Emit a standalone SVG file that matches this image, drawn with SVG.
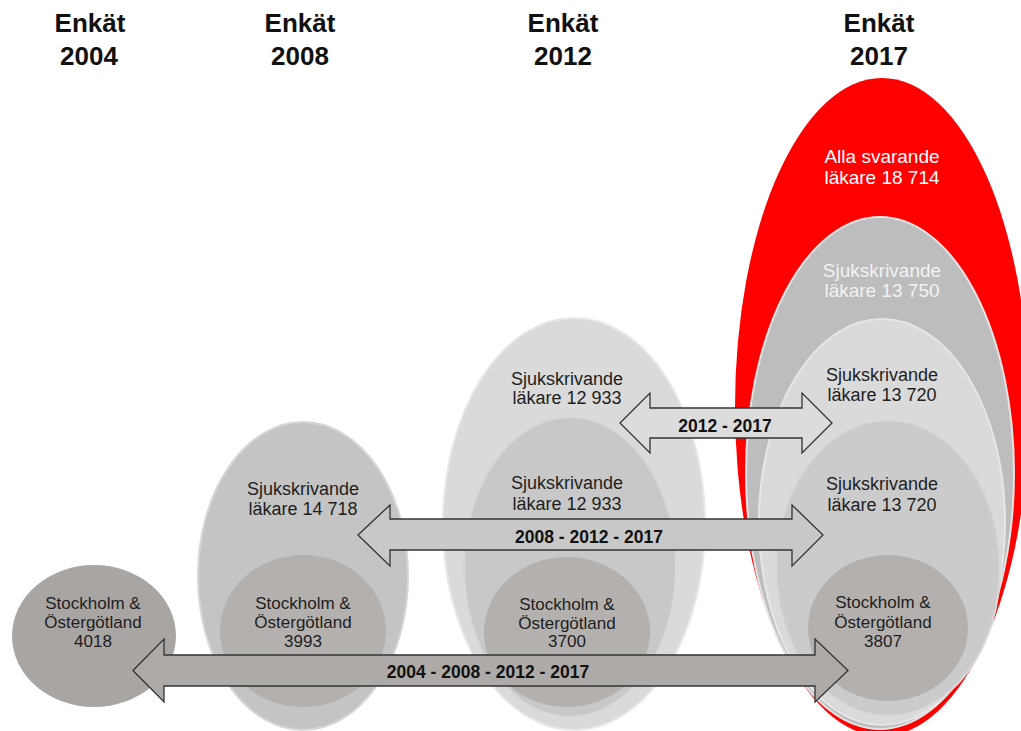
<svg xmlns="http://www.w3.org/2000/svg" width="1021" height="731" viewBox="0 0 1021 731">
<style>
.hdr{font-family:"Liberation Sans",Arial,sans-serif;font-weight:bold;font-size:26px;fill:#111;text-anchor:middle}
.t{font-family:"Liberation Sans",Arial,sans-serif;font-size:18px;fill:#1e1e1e;text-anchor:middle}
.s{font-family:"Liberation Sans",Arial,sans-serif;font-size:17px;fill:#1e1e1e;text-anchor:middle}
.w{fill:#ffffff;font-size:19px}
.lbl{font-family:"Liberation Sans",Arial,sans-serif;font-weight:bold;font-size:17.5px;fill:#111;text-anchor:middle}
.arr{stroke:#333;stroke-width:1.3;stroke-linejoin:miter}
.core{fill:#b3b0ae}
</style>
<rect width="1021" height="731" fill="#ffffff"/>
<g id="headers">
<text class="hdr" x="90" y="32">Enkät</text><text class="hdr" x="89" y="65">2004</text>
<text class="hdr" x="300" y="32">Enkät</text><text class="hdr" x="300" y="65">2008</text>
<text class="hdr" x="563" y="32">Enkät</text><text class="hdr" x="563" y="65">2012</text>
<text class="hdr" x="879" y="32">Enkät</text><text class="hdr" x="879" y="65">2017</text>
</g>
<g id="n2004">
<ellipse cx="94" cy="636" rx="82" ry="71" fill="#a9a5a3"/>
<text class="s" x="93" y="609">Stockholm &amp;</text><text class="s" x="93" y="628">Östergötland</text><text class="s" x="93" y="647">4018</text>
</g>
<g id="n2008-sjuk">
<ellipse cx="303" cy="576" rx="105" ry="154" fill="#c4c4c4" stroke="#d6d6d6" stroke-width="2"/>
<text class="t" x="303" y="495">Sjukskrivande</text><text class="t" x="303" y="515">läkare 14 718</text>
</g>
<g id="n2008-sth">
<ellipse class="core" cx="303" cy="631" rx="83" ry="76"/>
<text class="s" x="303" y="609">Stockholm &amp;</text><text class="s" x="303" y="628">Östergötland</text><text class="s" x="303" y="647">3993</text>
</g>
<g id="n2012-sjuk-a">
<ellipse cx="574" cy="524" rx="131" ry="206" fill="#dadada" stroke="#e8e8e8" stroke-width="2"/>
<text class="t" x="567" y="385">Sjukskrivande</text><text class="t" x="567" y="404">läkare 12 933</text>
</g>
<g id="n2012-sjuk-b">
<ellipse cx="570" cy="567" rx="106" ry="150" fill="#c8c8c8" stroke="#d8d8d8" stroke-width="2"/>
<text class="t" x="567" y="489">Sjukskrivande</text><text class="t" x="567" y="510">läkare 12 933</text>
</g>
<g id="n2012-sth">
<ellipse class="core" cx="567" cy="632" rx="83" ry="75"/>
<text class="s" x="567" y="610">Stockholm &amp;</text><text class="s" x="567" y="629">Östergötland</text><text class="s" x="567" y="647">3700</text>
</g>
<g id="n2017-alla">
<ellipse cx="882" cy="407" rx="147" ry="329" fill="#fe0000"/>
<text class="t w" x="882" y="163">Alla svarande</text><text class="t w" x="882" y="184">läkare 18 714</text>
</g>
<g id="n2017-sjuk-a">
<ellipse cx="880" cy="473" rx="134" ry="256" fill="#bdbdbd" stroke="#e4e4e4" stroke-width="2"/>
<text class="t w" x="882" y="277" style="fill:#f2f2f2">Sjukskrivande</text><text class="t w" x="882" y="297" style="fill:#f2f2f2">läkare 13 750</text>
</g>
<g id="n2017-sjuk-b">
<ellipse cx="882" cy="522" rx="123" ry="203" fill="#dadada" stroke="#e6e6e6" stroke-width="2"/>
<text class="t" x="882" y="381">Sjukskrivande</text><text class="t" x="882" y="401">läkare 13 720</text>
</g>
<g id="n2017-sjuk-c">
<ellipse cx="888" cy="568" rx="112" ry="148" fill="#cbcbcb" stroke="#d9d9d9" stroke-width="2"/>
<text class="t" x="882" y="490">Sjukskrivande</text><text class="t" x="882" y="511">läkare 13 720</text>
</g>
<g id="n2017-sth">
<ellipse class="core" cx="888" cy="628" rx="80" ry="73"/>
<text class="s" x="883" y="608">Stockholm &amp;</text><text class="s" x="883" y="628">Östergötland</text><text class="s" x="883" y="647">3807</text>
</g>
<g id="connectors">
<path class="arr" fill="#dcdcdc" d="M620,423 L650,393 L650,408 L802,408 L802,393 L832,423 L802,453 L802,438 L650,438 L650,453 Z"/>
<text class="lbl" x="725" y="432">2012 - 2017</text>
<path class="arr" fill="#c8c8c8" d="M358,535 L390,505 L390,519 L792,519 L792,505 L823,535 L792,566 L792,550 L390,550 L390,566 Z"/>
<text class="lbl" x="589" y="543">2008 - 2012 - 2017</text>
<path class="arr" fill="#aeaaa7" d="M133,670.5 L164,639 L164,655 L815,655 L815,639 L848,670.5 L815,702 L815,686 L164,686 L164,702 Z"/>
<text class="lbl" x="488" y="678">2004 - 2008 - 2012 - 2017</text>
</g>
</svg>
